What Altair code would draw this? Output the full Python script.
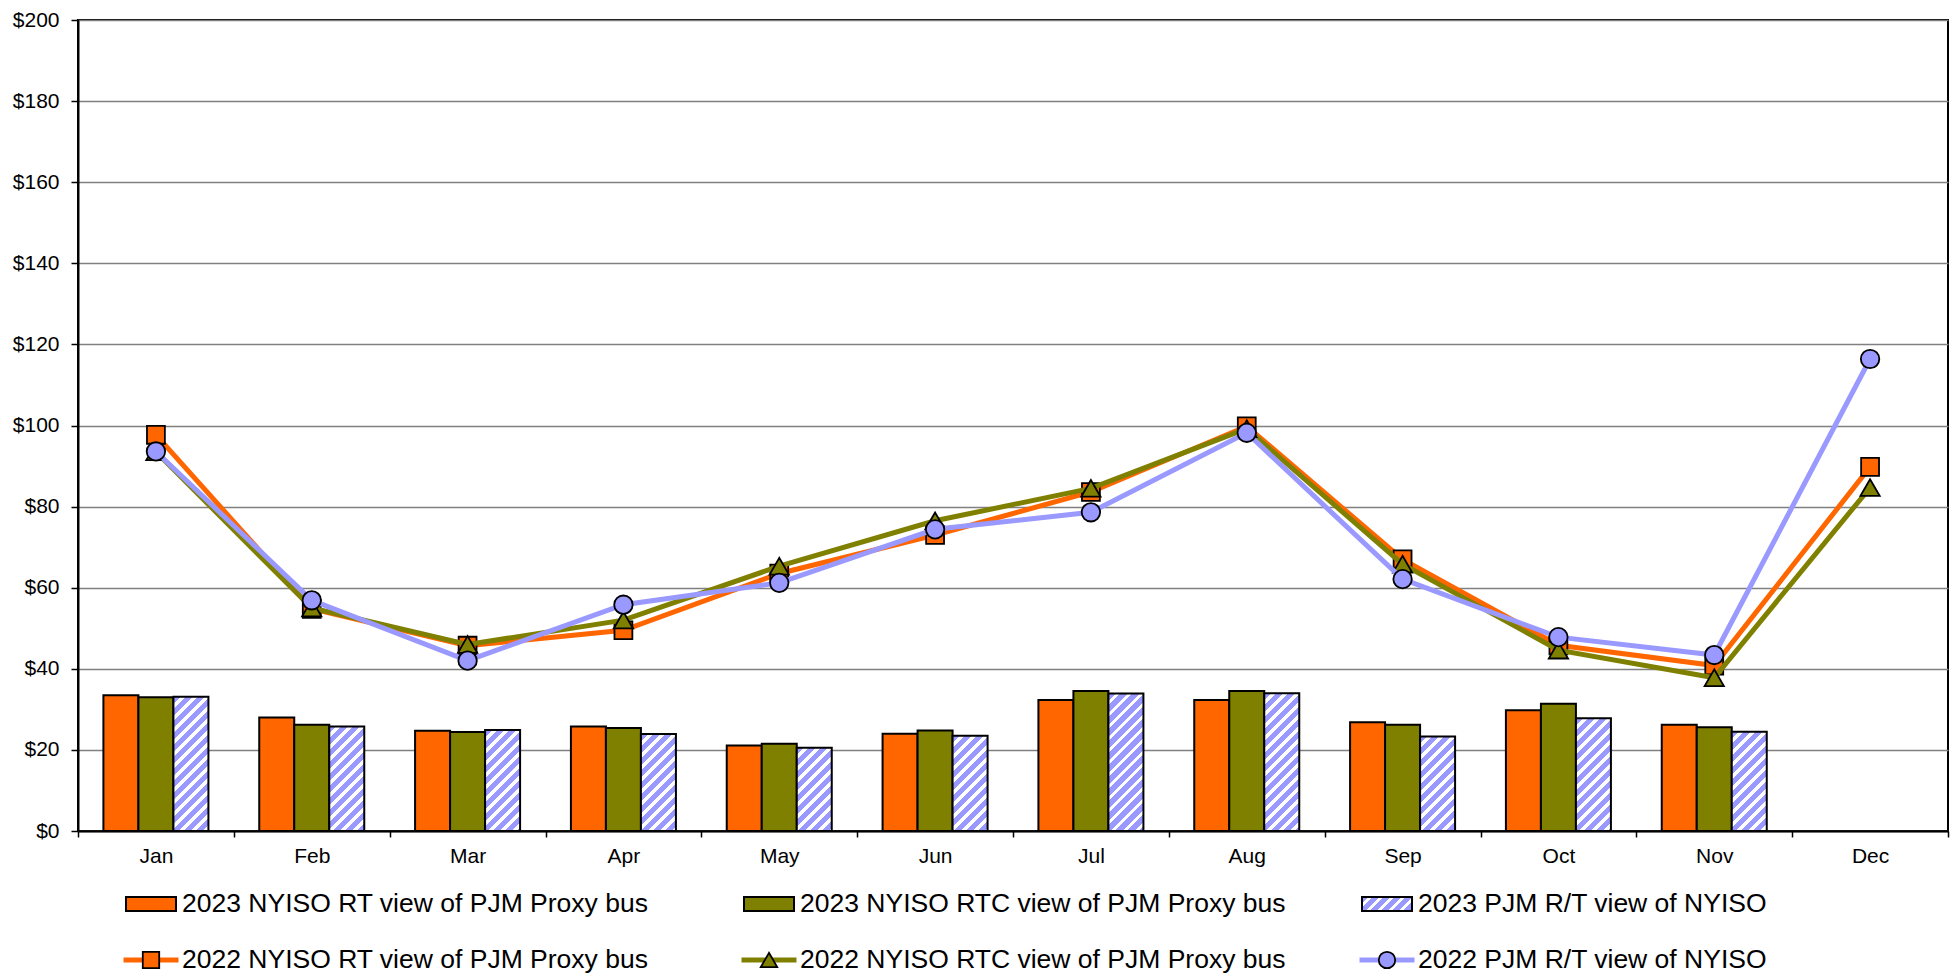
import altair as alt
import pandas as pd

FONT = "Liberation Sans"
ORANGE = "#FF6600"
OLIVE = "#808000"
LAV = "#9999FF"

months = ["Jan", "Feb", "Mar", "Apr", "May", "Jun", "Jul", "Aug", "Sep", "Oct", "Nov", "Dec"]

bar_series = [
    "2023 NYISO RT view of PJM Proxy bus",
    "2023 NYISO RTC view of PJM Proxy bus",
    "2023 PJM R/T view of NYISO",
]
line_series = [
    "2022 NYISO RT view of PJM Proxy bus",
    "2022 NYISO RTC view of PJM Proxy bus",
    "2022 PJM R/T view of NYISO",
]

# 2023 monthly values (bars); December not available
rt_2023 = [33.5, 28.0, 24.7, 25.8, 21.1, 24.0, 32.3, 32.3, 26.8, 29.8, 26.2, None]
rtc_2023 = [33.0, 26.2, 24.4, 25.4, 21.5, 24.8, 34.5, 34.5, 26.2, 31.4, 25.6, None]
pjm_2023 = [33.1, 25.8, 24.9, 23.9, 20.5, 23.5, 33.9, 34.0, 23.3, 27.8, 24.5, None]

# 2022 monthly values (lines)
rt_2022 = [97.7, 54.8, 45.7, 49.5, 63.5, 73.0, 83.6, 99.8, 67.0, 45.8, 40.8, 89.8]
rtc_2022 = [93.5, 55.0, 46.0, 52.0, 65.3, 76.5, 84.5, 99.2, 65.8, 44.6, 37.8, 84.7]
pjm_2022 = [93.6, 56.9, 42.0, 55.8, 61.2, 74.4, 78.6, 98.2, 62.1, 47.8, 43.4, 116.4]

bar_values = [rt_2023, rtc_2023, pjm_2023]
line_values = [rt_2022, rtc_2022, pjm_2022]

bars_df = pd.DataFrame(
    [
        {"month": m, "series": s, "value": v}
        for s, vals in zip(bar_series, bar_values)
        for m, v in zip(months, vals)
        if v is not None
    ]
)
lines_df = pd.DataFrame(
    [
        {"month": m, "series": s, "value": v}
        for s, vals in zip(line_series, line_values)
        for m, v in zip(months, vals)
    ]
)

W = 1870
H = 811
Y_MAX = 200
BAR_W = 35.0


def hatch(w, h, period=12.0, white=0.4):
    k = (w + h) / (w * w + h * h)
    n = (w + h) / period
    stops = []
    i = 0
    while i < n:
        a = i / n
        b = min((i + 1 - white) / n, 1.0)
        c = min((i + 1) / n, 1.0)
        stops.append({"offset": round(a, 5), "color": LAV})
        stops.append({"offset": round(b, 5), "color": LAV})
        if b < 1.0:
            stops.append({"offset": round(b, 5), "color": "white"})
            stops.append({"offset": round(c, 5), "color": "white"})
        i += 1
    return {"gradient": "linear", "x1": 0, "y1": 0, "x2": k * w, "y2": k * h, "stops": stops}


x_enc = alt.X(
    "month:N",
    sort=months,
    scale=alt.Scale(domain=months, paddingInner=0, paddingOuter=0),
    axis=alt.Axis(
        title=None, labelAngle=0, tickBand="extent", labelFontSize=21, labelColor="black",
        labelFont=FONT, tickColor="black", tickSize=6, tickWidth=1.5, domainColor="black",
        domainWidth=2, labelPadding=8, grid=False,
    ),
)
y_enc = alt.Y(
    "value:Q",
    scale=alt.Scale(domain=[0, Y_MAX], nice=False),
    axis=alt.Axis(
        title=None, values=list(range(0, 201, 20)), format="$.0f", labelFontSize=21,
        labelColor="black", labelFont=FONT, tickColor="black", tickSize=7, tickWidth=1.5,
        domainColor="black", domainWidth=2, labelPadding=12, gridColor="#808080", gridWidth=1.3,
    ),
)

bars_base = alt.Chart(bars_df).encode(
    x=x_enc,
    xOffset=alt.XOffset(
        "series:N", sort=bar_series,
        scale=alt.Scale(domain=bar_series, paddingInner=0, paddingOuter=0.726),
    ),
    y=y_enc,
)

solid = bars_base.transform_filter(
    alt.FieldOneOfPredicate(field="series", oneOf=bar_series[:2])
).mark_bar(stroke="black", strokeWidth=2).encode(
    fill=alt.Fill("series:N", scale=alt.Scale(domain=bar_series, range=[ORANGE, OLIVE, LAV]), legend=None)
)

conds = []
for m, v in zip(months, pjm_2023):
    if v is None:
        continue
    conds.append({"test": f"datum.month === '{m}'", "value": hatch(BAR_W, v / Y_MAX * H)})

hatched = bars_base.transform_filter(
    alt.datum.series == bar_series[2]
).mark_bar(stroke="black", strokeWidth=2).encode(
    fill=alt.FillValue(value=LAV, condition=conds)
)

line_colors = [ORANGE, OLIVE, LAV]
line_shapes = ["square", "triangle-up", "circle"]
line_sizes = [320, 370, 340]

layers = [solid, hatched]
for s, c, shp, sz in zip(line_series, line_colors, line_shapes, line_sizes):
    d = lines_df[lines_df["series"] == s]
    layers.append(alt.Chart(d).mark_line(color=c, strokeWidth=5).encode(x=x_enc, y=y_enc))
    layers.append(
        alt.Chart(d).mark_point(
            shape=shp, filled=True, fill=c, stroke="black", strokeWidth=1.8, size=sz, opacity=1
        ).encode(x=x_enc, y=y_enc)
    )

main = alt.layer(*layers).properties(
    width=W, height=H, view=alt.ViewBackground(stroke="black", strokeWidth=2)
)

# ---- legend (2 rows x 3 columns) ----
legend_df = pd.DataFrame(
    [{"label": s, "col": i, "row": 0} for i, s in enumerate(bar_series)]
    + [{"label": s, "col": i, "row": 1} for i, s in enumerate(line_series)]
)
all_labels = bar_series + line_series
all_colors = [ORANGE, OLIVE, LAV, ORANGE, OLIVE, LAV]

LEG_H = 100
x_leg = alt.X("col:Q", scale=alt.Scale(domain=[-0.11812, 2.90777], nice=False, zero=False), axis=None)
y_leg = alt.Y("row:Q", scale=alt.Scale(domain=[-0.5893, 1.1964], reverse=True, nice=False, zero=False), axis=None)

RECT_PATH = "M-1,-0.28H1V0.28H-1Z"

leg_base = alt.Chart(legend_df).encode(x=x_leg, y=y_leg)

leg_bar = leg_base.transform_filter(
    alt.FieldOneOfPredicate(field="label", oneOf=bar_series[:2])
).mark_point(shape=RECT_PATH, size=2500, filled=True, stroke="black", strokeWidth=2, opacity=1).encode(
    fill=alt.Fill("label:N", scale=alt.Scale(domain=all_labels, range=all_colors), legend=None)
)
leg_hatch = leg_base.transform_filter(
    alt.datum.label == bar_series[2]
).mark_point(
    shape=RECT_PATH, size=2500, filled=True, stroke="black", strokeWidth=2, opacity=1,
    fill=hatch(50, 14, period=11.0),
)
leg_line = leg_base.transform_filter(
    alt.FieldOneOfPredicate(field="label", oneOf=line_series)
).mark_point(shape="M-1,0H1", size=3025, filled=False, strokeWidth=5, opacity=1).encode(
    stroke=alt.Stroke("label:N", scale=alt.Scale(domain=line_series, range=line_colors), legend=None)
)
leg_marker = leg_base.transform_filter(
    alt.FieldOneOfPredicate(field="label", oneOf=line_series)
).mark_point(filled=True, stroke="black", strokeWidth=1.8, size=270, opacity=1).encode(
    fill=alt.Fill("label:N", scale=alt.Scale(domain=all_labels, range=all_colors), legend=None),
    shape=alt.Shape("label:N", scale=alt.Scale(domain=line_series, range=line_shapes), legend=None),
)
leg_text = leg_base.mark_text(
    align="left", baseline="middle", dx=31, fontSize=26.5, font=FONT, color="black"
).encode(text="label:N")

legend = alt.layer(leg_bar, leg_hatch, leg_line, leg_marker, leg_text).properties(
    width=W, height=LEG_H, view=alt.ViewBackground(strokeOpacity=0)
)

chart = alt.vconcat(main, legend, spacing=40, bounds="flush").properties(
    padding={"left": 3, "top": 0, "right": 2, "bottom": 0}
).configure(font=FONT)

chart.save("out.html", embed_options={"renderer": "svg", "actions": False})
